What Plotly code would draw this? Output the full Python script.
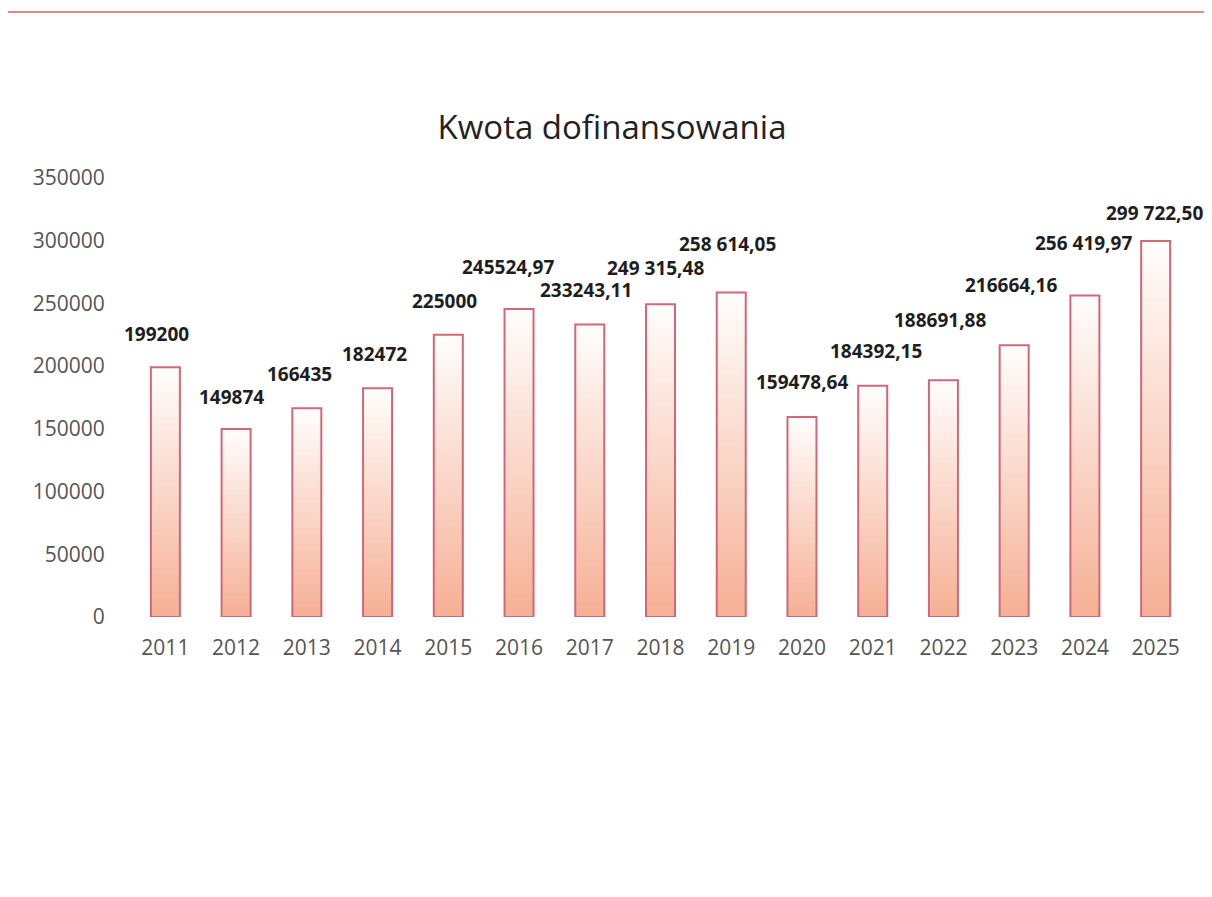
import plotly.graph_objects as go

# ---- data ----
years = ["2011", "2012", "2013", "2014", "2015", "2016", "2017", "2018",
         "2019", "2020", "2021", "2022", "2023", "2024", "2025"]
amounts = [199200, 149874, 166435, 182472, 225000, 245524.97, 233243.11,
           249315.48, 258614.05, 159478.64, 184392.15, 188691.88, 216664.16,
           256419.97, 299722.50]
label_texts = ["199200", "149874", "166435", "182472", "225000", "245524,97",
               "233243,11", "249 315,48", "258 614,05", "159478,64",
               "184392,15", "188691,88", "216664,16", "256 419,97", "299 722,50"]
y_ticks = [0, 50000, 100000, 150000, 200000, 250000, 300000, 350000]
title_text = "Kwota dofinansowania"

# ---- label placement offsets (px) ----
label_dx = [-9, -5, -7, -3, -4, -11, -4, -5, -4, 0, 3, -3, -3, -1, -1]
label_dy = [33, 32, 34, 34, 34, 42, 34, 36, 49, 35, 35, 60, 60, 52, 28]

# ---- style ----
W, H = 1212, 897
OFF = 8                      # page body margin of the html page
FONT = "Open Sans"
top_rgb = (255, 253, 252)
bottom_rgb = (246, 176, 150)
outline = "rgb(208,104,120)"
N_STEPS = 40

PLOT_L, PLOT_R, PLOT_T, PLOT_B = 130, 1191, 178, 617   # target pixel box

fig = go.Figure()

# gradient fill: overlay successively shorter bars, shading from top colour to bottom colour
for k in range(N_STEPS):
    frac = (N_STEPS - k) / N_STEPS
    t = k / (N_STEPS - 1)
    c = tuple(round(top_rgb[i] + (bottom_rgb[i] - top_rgb[i]) * t) for i in range(3))
    fig.add_trace(go.Bar(
        x=years, y=[v * frac for v in amounts],
        marker=dict(color="rgb(%d,%d,%d)" % c, line=dict(width=0)),
        hoverinfo="skip", showlegend=False,
    ))

# outline
fig.add_trace(go.Bar(
    x=years, y=amounts,
    marker=dict(color="rgba(0,0,0,0)", line=dict(color=outline, width=2)),
    showlegend=False,
))

# data labels (x given as category index so numeric-looking years are not misread)
for idx, (v, txt, dx, dy) in enumerate(zip(amounts, label_texts, label_dx, label_dy)):
    fig.add_annotation(
        x=idx, y=v, text="<b>%s</b>" % txt, showarrow=False,
        xanchor="center", yanchor="middle", xshift=dx, yshift=dy,
        font=dict(family=FONT, size=19, color="#1e1e1e"),
    )

# top decorative rule of the page
pw = PLOT_R - PLOT_L
ph = PLOT_B - PLOT_T
fig.add_shape(type="line", xref="paper", yref="paper",
              x0=(8 - PLOT_L) / pw, x1=(1212 - PLOT_L) / pw,
              y0=(PLOT_B - 12) / ph, y1=(PLOT_B - 12) / ph,
              line=dict(color="rgb(226,140,138)", width=2))

fig.update_layout(
    width=W, height=H,
    barmode="overlay", bargap=0.59,
    plot_bgcolor="white", paper_bgcolor="white",
    margin=dict(l=PLOT_L - OFF, r=W - PLOT_R + OFF, t=PLOT_T - OFF,
                b=H - PLOT_B + OFF, autoexpand=False),
    title=dict(text=title_text, x=(612 - OFF) / W, xanchor="center", xref="container",
               y=1 - (127 - OFF) / H, yanchor="middle", yref="container",
               font=dict(family=FONT, size=33, color="#222222")),
    xaxis=dict(type="category", range=[-0.5, len(years) - 0.5],
               showgrid=False, showline=False, zeroline=False,
               ticks="outside", ticklen=12, tickcolor="rgba(0,0,0,0)",
               tickfont=dict(family=FONT, size=21, color="#555555")),
    yaxis=dict(range=[0, 350000], tickvals=y_ticks, showgrid=False,
               showline=False, zeroline=False, tickformat="d",
               ticks="outside", ticklen=20, tickcolor="rgba(0,0,0,0)",
               tickfont=dict(family=FONT, size=21, color="#555555")),
)

fig.write_html("out.html")
